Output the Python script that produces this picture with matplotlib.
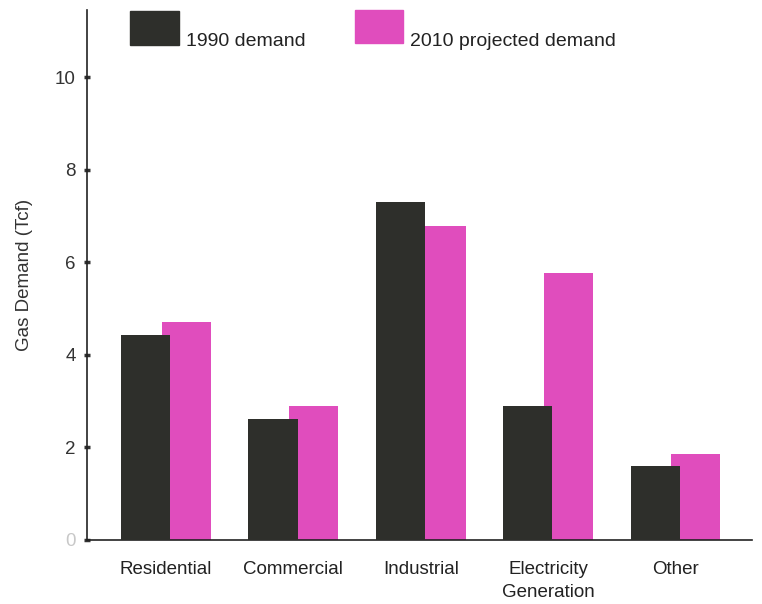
import matplotlib
matplotlib.use("Agg")
import matplotlib.pyplot as plt
from matplotlib.patches import Rectangle
import numpy as np

categories = ["Residential", "Commercial", "Industrial", "Electricity\nGeneration", "Other"]
demand_1990 = [4.43, 2.61, 7.30, 2.89, 1.60]
demand_2010 = [4.71, 2.89, 6.78, 5.77, 1.86]
y_ticks = [0, 2, 4, 6, 8, 10]
series_names = ["1990 demand", "2010 projected demand"]

DARK = "#2e2f2b"
PINK = "#e04dbd"
plt.rcParams["font.family"] = ["Liberation Sans", "DejaVu Sans"]

W, H = 762, 604
fig = plt.figure(figsize=(W / 100, H / 100), dpi=100)
ax = fig.add_axes([87 / W, 1 - 540 / H, (752 - 87) / W, (540 - 10) / H])

x = np.arange(len(categories))
bw = 0.385
off = 0.16
ax.bar(x + off, demand_2010, width=bw, color=PINK, zorder=2)
ax.bar(x - off, demand_1990, width=bw, color=DARK, zorder=3)

ax.set_xlim(-0.62, 4.6)
ax.set_ylim(0, 11.45)
ax.set_yticks(y_ticks)
ax.set_yticklabels([str(v) for v in y_ticks], fontsize=13.5, color="#333333")
ax.get_yticklabels()[0].set_color("#c8c8c8")
ax.tick_params(axis="y", direction="inout", length=4, width=2.5, color="#333333", pad=6)
ticks = ax.yaxis.get_major_ticks()
for t in ticks[4:]:
    t.tick1line.set_color("#aaaaaa")
ax.set_xticks(x)
ax.set_xticklabels(categories, fontsize=13.5, color="#222222", linespacing=1.45)
ax.tick_params(axis="x", length=0, pad=15)
for s in ["top", "right"]:
    ax.spines[s].set_visible(False)
for s in ["left", "bottom"]:
    ax.spines[s].set_color("#222222")
    ax.spines[s].set_linewidth(1.2)
ax.set_ylabel("Gas Demand (Tcf)", fontsize=13.5, color="#333333", labelpad=16)

# legend swatches and labels placed in figure pixel space
trans = fig.transFigure
def px(xp, yp):
    return xp / W, 1 - yp / H

for (x0, y0, x1, y1), col, (tx, ty), name in [
    ((130, 11, 179, 45), DARK, (186, 42), series_names[0]),
    ((355, 10, 403, 43), PINK, (410, 41), series_names[1]),
]:
    ax0, ay1 = px(x0, y1)
    fig.add_artist(Rectangle((ax0, ay1), (x1 - x0) / W, (y1 - y0) / H,
                             transform=trans, color=col))
    fig.text(*px(tx, ty), name, fontsize=14, color="#222222", va="center", ha="left")

fig.savefig("out.png", dpi=100)
